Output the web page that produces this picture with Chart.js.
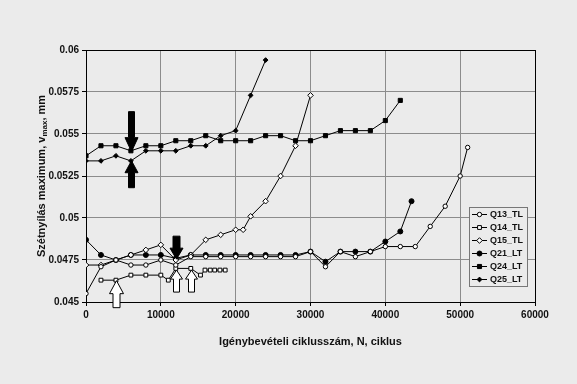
<!DOCTYPE html>
<html><head><meta charset="utf-8">
<script src="https://cdn.jsdelivr.net/npm/chart.js@4.4.0/dist/chart.umd.min.js"></script>
<style>html,body{margin:0;padding:0;background:#ebebeb;}#wrap{width:577px;height:384px;}</style>
</head><body><div id="wrap"><canvas id="c" width="577" height="384"></canvas></div>
<script>
// ---- data ----
const xTicks = [0, 10000, 20000, 30000, 40000, 50000, 60000];
const yTicks = [0.045, 0.0475, 0.05, 0.0525, 0.055, 0.0575, 0.06];
const seriesNames = ['Q13_TL', 'Q14_TL', 'Q15_TL', 'Q21_LT', 'Q24_LT', 'Q25_LT'];
const xTitle = 'Igénybevételi ciklusszám, N, ciklus';
const yTitleMain = 'Szétnyílás maximum, v';
const yTitleSub = 'max';
const yTitleEnd = ', mm';

const q13X = [0, 2000, 4000, 6000, 8000, 10000, 12000, 14000, 16000, 18000, 20000, 22000, 24000, 26000, 28000, 30000, 32000, 34000, 36000, 38000, 40000, 42000, 44000, 46000, 48000, 50000, 51000];
const q13Y = [0.0455, 0.0471, 0.0475, 0.0472, 0.0472, 0.0475, 0.0472, 0.0477, 0.0477, 0.0477, 0.0477, 0.0477, 0.0477, 0.0477, 0.0477, 0.0480, 0.0471, 0.0480, 0.0477, 0.0480, 0.0483, 0.0483, 0.0483, 0.0495, 0.0507, 0.0525, 0.0542];

const q14X = [2000, 4000, 6000, 8000, 10000, 11000, 12000, 14000, 15300, 15900, 16600, 17200, 17900, 18600];
const q14Y = [0.0463, 0.0463, 0.0466, 0.0466, 0.0466, 0.0463, 0.0470, 0.0470, 0.0466, 0.0469, 0.0469, 0.0469, 0.0469, 0.0469];

const q15X = [0, 2000, 4000, 6000, 8000, 10000, 12000, 14000, 16000, 18000, 20000, 21000, 22000, 24000, 26000, 28000, 30000];
const q15Y = [0.0472, 0.0472, 0.0475, 0.0478, 0.0481, 0.0484, 0.0475, 0.0478, 0.0487, 0.0490, 0.0493, 0.0493, 0.0501, 0.0510, 0.0525, 0.0543, 0.0573];

const q21X = [0, 2000, 4000, 6000, 8000, 10000, 12000, 14000, 16000, 18000, 20000, 22000, 24000, 26000, 28000, 30000, 32000, 34000, 36000, 38000, 40000, 42000, 43500];
const q21Y = [0.0487, 0.0478, 0.0475, 0.0478, 0.0478, 0.0478, 0.0476, 0.0478, 0.0478, 0.0478, 0.0478, 0.0478, 0.0478, 0.0478, 0.0478, 0.0480, 0.0474, 0.0480, 0.0480, 0.0480, 0.0486, 0.0492, 0.0510];

const q24X = [0, 2000, 4000, 6000, 8000, 10000, 12000, 14000, 16000, 18000, 20000, 22000, 24000, 26000, 28000, 30000, 32000, 34000, 36000, 38000, 40000, 42000];
const q24Y = [0.0537, 0.0543, 0.0543, 0.0540, 0.0543, 0.0543, 0.0546, 0.0546, 0.0549, 0.0546, 0.0546, 0.0546, 0.0549, 0.0549, 0.0546, 0.0546, 0.0549, 0.0552, 0.0552, 0.0552, 0.0558, 0.0570];

const q25X = [0, 2000, 4000, 6000, 8000, 10000, 12000, 14000, 16000, 18000, 20000, 22000, 24000];
const q25Y = [0.0534, 0.0534, 0.0537, 0.0534, 0.0540, 0.0540, 0.0540, 0.0543, 0.0543, 0.0549, 0.0552, 0.0573, 0.0594];

// annotation arrows (data positions)
const arrowX = [6000, 6000, 12000, 4000, 12000, 14000];
const arrowTipY = [0.05395, 0.05341, 0.04755, 0.04627, 0.0469, 0.0469];
const arrowDir = ['down', 'up', 'down', 'up', 'up', 'up'];
const arrowFilled = [true, true, true, false, false, false];

// ---- styles ----
const arrowStyle = [
  {len: 40, head: 14, hh: 6.5, sh: 3},
  {len: 27, head: 12, hh: 6.5, sh: 3},
  {len: 23, head: 11, hh: 6.5, sh: 3.5},
  {len: 27, head: 13, hh: 7, sh: 3.5},
  {len: 22, head: 9, hh: 6, sh: 3},
  {len: 22, head: 9, hh: 6, sh: 3}
];
const BG = '#ebebeb';
const marker = [
  {pointStyle: 'circle', radius: 2.2, fill: '#ffffff'},
  {pointStyle: 'rect', radius: 2.7, fill: '#ffffff'},
  {pointStyle: 'rectRot', radius: 2.8, fill: '#ffffff'},
  {pointStyle: 'circle', radius: 2.5, fill: '#000000'},
  {pointStyle: 'rect', radius: 2.9, fill: '#000000'},
  {pointStyle: 'rectRot', radius: 2.4, fill: '#000000'}
];
const xs = [q13X, q14X, q15X, q21X, q24X, q25X];
const ys = [q13Y, q14Y, q15Y, q21Y, q24Y, q25Y];

const datasets = seriesNames.map((name, i) => ({
  label: name,
  data: xs[i].map((x, j) => ({x: x, y: ys[i][j]})),
  showLine: true,
  borderColor: '#000',
  borderWidth: 1,
  pointStyle: marker[i].pointStyle,
  pointRadius: marker[i].radius,
  pointBackgroundColor: marker[i].fill,
  pointBorderColor: '#000',
  pointBorderWidth: 1,
  tension: 0
}));

const FONT = '"Liberation Sans", Arial, sans-serif';

const extras = {
  id: 'extras',
  beforeDatasetsDraw(chart) {
    const ctx = chart.ctx, a = chart.chartArea;
    ctx.save();
    ctx.strokeStyle = '#000'; ctx.lineWidth = 1;
    ctx.strokeRect(Math.round(a.left) + 0.5, Math.round(a.top) + 0.5, Math.round(a.right - a.left), Math.round(a.bottom - a.top));
    ctx.restore();
  },
  afterDraw(chart) {
    const ctx = chart.ctx, a = chart.chartArea;
    const xs_ = chart.scales.x, ys_ = chart.scales.y;
    // arrows
    ctx.save();
    arrowX.forEach((xv, i) => {
      const st = arrowStyle[i];
      const x = Math.round(xs_.getPixelForValue(xv)) + 0.5;
      const tip = ys_.getPixelForValue(arrowTipY[i]);
      const s = arrowDir[i] === 'down' ? -1 : 1;
      const base = tip + s * st.head, tail = tip + s * st.len;
      ctx.beginPath();
      ctx.moveTo(x, tip);
      ctx.lineTo(x + st.hh, base);
      ctx.lineTo(x + st.sh, base);
      ctx.lineTo(x + st.sh, tail);
      ctx.lineTo(x - st.sh, tail);
      ctx.lineTo(x - st.sh, base);
      ctx.lineTo(x - st.hh, base);
      ctx.closePath();
      ctx.fillStyle = arrowFilled[i] ? '#000' : '#ffffff';
      ctx.fill();
      ctx.strokeStyle = '#000'; ctx.lineWidth = 1;
      ctx.stroke();
    });
    ctx.restore();
    // y title with subscript
    ctx.save();
    ctx.fillStyle = '#111';
    const fMain = 'bold 11px ' + FONT, fSub = 'bold 8px ' + FONT;
    ctx.font = fMain; const w1 = ctx.measureText(yTitleMain).width; const w3 = ctx.measureText(yTitleEnd).width;
    ctx.font = fSub; const w2 = ctx.measureText(yTitleSub).width;
    const total = w1 + w2 + w3;
    ctx.translate(42, (a.top + a.bottom) / 2);
    ctx.rotate(-Math.PI / 2);
    ctx.textBaseline = 'middle'; ctx.textAlign = 'left';
    let px = -total / 2;
    ctx.font = fMain; ctx.fillText(yTitleMain, px, 0); px += w1;
    ctx.font = fSub; ctx.fillText(yTitleSub, px, 3); px += w2;
    ctx.font = fMain; ctx.fillText(yTitleEnd, px, 0);
    ctx.restore();
    // legend
    ctx.save();
    const lx = 469, ly = 207, lw = 58, lh = 79;
    ctx.fillStyle = BG; ctx.fillRect(lx, ly, lw, lh);
    ctx.strokeStyle = '#777'; ctx.lineWidth = 1;
    ctx.strokeRect(lx + 0.5, ly + 0.5, lw, lh);
    ctx.font = 'bold 9px ' + FONT;
    ctx.textBaseline = 'middle'; ctx.textAlign = 'left';
    seriesNames.forEach((name, i) => {
      const yy = Math.round(ly + 7 + i * 13) + 0.5;
      ctx.strokeStyle = '#000'; ctx.lineWidth = 1;
      ctx.beginPath(); ctx.moveTo(lx + 3, yy); ctx.lineTo(lx + 18, yy); ctx.stroke();
      ctx.fillStyle = marker[i].fill; ctx.strokeStyle = '#000';
      Chart.helpers.drawPoint(ctx, {pointStyle: marker[i].pointStyle, radius: marker[i].radius, borderWidth: 1, rotation: 0}, lx + 10.5, yy);
      ctx.fillStyle = '#111';
      ctx.fillText(name, lx + 21, yy);
    });
    ctx.restore();
  }
};

new Chart(document.getElementById('c'), {
  type: 'scatter',
  data: {datasets: datasets},
  options: {
    responsive: false,
    animation: false,
    layout: {padding: {left: 0, top: 50, right: 42, bottom: 0}},
    plugins: {legend: {display: false}, tooltip: {enabled: false}},
    scales: {
      x: {
        type: 'linear', min: 0, max: 60000,
        afterBuildTicks: s => { s.ticks = xTicks.map(v => ({value: v})); },
        afterFit: s => { s.height = 82; },
        grid: {color: '#8c8c8c', lineWidth: 1, tickLength: 4, tickColor: '#000'},
        border: {color: '#000', width: 1},
        ticks: {font: {family: FONT, size: 10, weight: 'bold'}, color: '#111', padding: 3, maxRotation: 0, callback: v => String(v)},
        title: {display: true, text: xTitle, font: {family: FONT, size: 11, weight: 'bold'}, color: '#111', padding: {top: 0, bottom: 35}}
      },
      y: {
        type: 'linear', min: 0.045, max: 0.06,
        afterBuildTicks: s => { s.ticks = yTicks.map(v => ({value: v})); },
        afterFit: s => { s.width = 86; },
        grid: {color: '#8c8c8c', lineWidth: 1, tickLength: 4, tickColor: '#000'},
        border: {color: '#000', width: 1},
        ticks: {font: {family: FONT, size: 10, weight: 'bold'}, color: '#111', padding: 3, callback: v => String(Number(v.toFixed(4)))}
      }
    }
  },
  plugins: [extras]
});
</script></body></html>
